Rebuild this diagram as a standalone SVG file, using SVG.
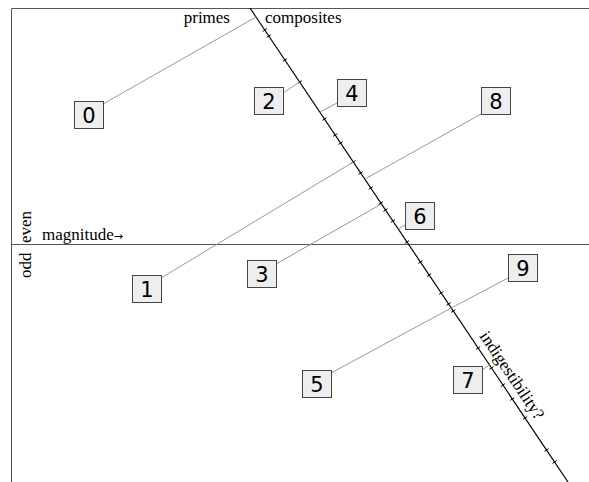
<svg xmlns="http://www.w3.org/2000/svg" width="589" height="482" viewBox="0 0 589 482">
<style>
.frame{stroke:#555;stroke-width:1;fill:none}
.axis{stroke:#000;stroke-width:1.2;fill:none}
.tick{stroke:#000;stroke-width:1;fill:none}
.conn{stroke:#999;stroke-width:1;fill:none}
.box rect{fill:#eeeeee;stroke:#444;stroke-width:1}
.box text{font-family:"DejaVu Sans",sans-serif;font-size:21px;text-anchor:middle;fill:#000}
.lbl{font-family:"Liberation Serif",serif;font-size:17px;fill:#000}
</style>
<rect width="589" height="482" fill="#fff"/>
<g id="frame">
<path class="frame" d="M11.5,482 V8.5 H589"/>
<path class="frame" d="M11.5,244.5 H589"/>
<path class="axis" d="M250,8 L568,482"/>
<path class="tick" d="M262.7,31.4l4.2,-2.8 M266.7,37.4l4.2,-2.8 M282.8,61.4l4.2,-2.8 M297.6,83.4l4.2,-2.8 M322.4,120.4l4.2,-2.8 M333.1,136.4l4.2,-2.8 M338.5,144.4l4.2,-2.8 M351.2,163.4l4.2,-2.8 M358.6,174.4l4.2,-2.8 M368.7,189.4l4.2,-2.8 M378.7,204.4l4.2,-2.8 M383.4,211.4l4.2,-2.8 M390.8,222.4l4.2,-2.8 M404.9,243.4l4.2,-2.8 M418.3,263.4l4.2,-2.8 M427.0,276.4l4.2,-2.8 M439.1,294.4l4.2,-2.8 M446.5,305.4l4.2,-2.8 M451.2,312.4l4.2,-2.8 M476.0,349.4l4.2,-2.8 M489.4,369.4l4.2,-2.8 M500.8,386.4l4.2,-2.8 M510.2,400.4l4.2,-2.8 M523.0,419.4l4.2,-2.8 M544.4,451.4l4.2,-2.8 M552.5,463.4l4.2,-2.8"/>
</g>
<g id="labels">
<text class="lbl" x="230" y="23" text-anchor="end">primes</text>
<text class="lbl" x="265" y="23">composites</text>
<text class="lbl" x="42" y="240">magnitude<tspan font-family="DejaVu Sans, sans-serif" font-size="11">→</tspan></text>
<text class="lbl" transform="translate(31,243) rotate(-90)">even</text>
<text class="lbl" transform="translate(31,278) rotate(-90)">odd</text>
<text class="lbl" transform="translate(479,336) rotate(56.1)">indigestibility?</text>
</g>
<g id="connectors">
<path class="conn" d="M103,104 L256,17"/>
<path class="conn" d="M283,93 L299.6,82"/>
<path class="conn" d="M337,103 L320,112"/>
<path class="conn" d="M481,114 L365,179"/>
<path class="conn" d="M161,278 L353.3,162"/>
<path class="conn" d="M405,225 L398.3,229"/>
<path class="conn" d="M276,264 L381.5,204"/>
<path class="conn" d="M508,278 L451.3,308"/>
<path class="conn" d="M331,373 L451.3,308"/>
<path class="conn" d="M482,370 L489.5,365"/>
</g>
<g id="n0" class="box"><rect x="74.5" y="101.5" width="29" height="27"/><text x="89" y="123">0</text></g>
<g id="n2" class="box"><rect x="254.5" y="87.5" width="29" height="27"/><text x="269" y="109">2</text></g>
<g id="n4" class="box"><rect x="337.5" y="79.5" width="29" height="27"/><text x="352" y="101">4</text></g>
<g id="n8" class="box"><rect x="481.5" y="87.5" width="29" height="27"/><text x="496" y="109">8</text></g>
<g id="n6" class="box"><rect x="405.5" y="202.5" width="29" height="27"/><text x="420" y="224">6</text></g>
<g id="n1" class="box"><rect x="132.5" y="275.5" width="29" height="27"/><text x="147" y="297">1</text></g>
<g id="n3" class="box"><rect x="247.5" y="260.5" width="29" height="27"/><text x="262" y="282">3</text></g>
<g id="n9" class="box"><rect x="508.5" y="254.5" width="29" height="27"/><text x="523" y="276">9</text></g>
<g id="n5" class="box"><rect x="302.5" y="370.5" width="29" height="27"/><text x="317" y="392">5</text></g>
<g id="n7" class="box"><rect x="453.5" y="366.5" width="29" height="27"/><text x="468" y="388">7</text></g>
</svg>
